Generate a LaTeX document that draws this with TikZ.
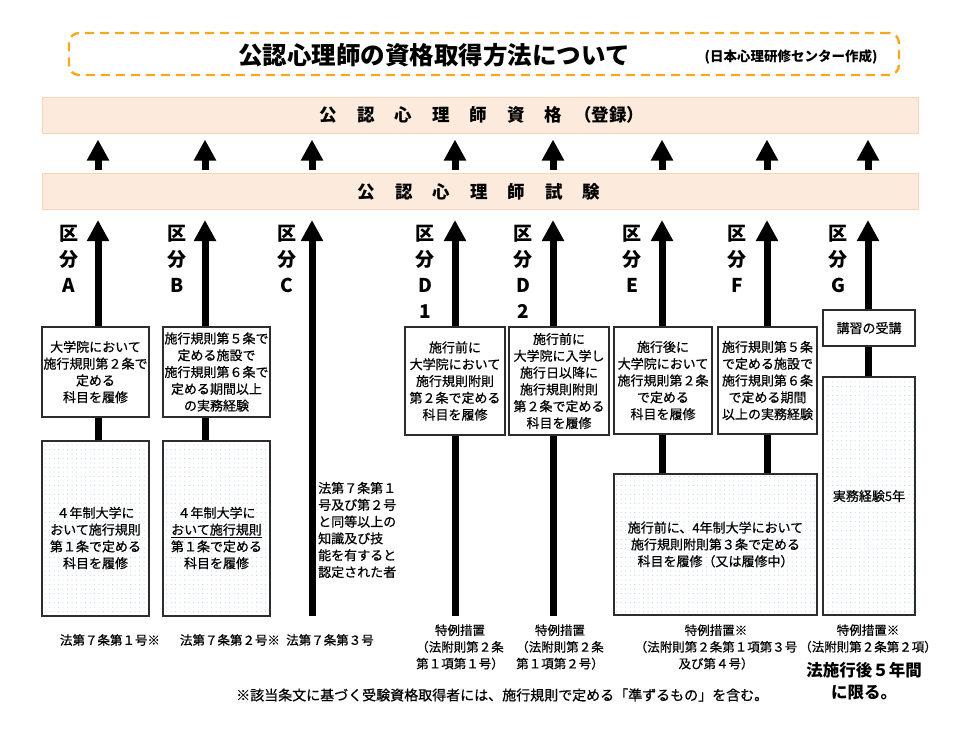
\documentclass[tikz,border=0pt]{standalone}
\usepackage{fontspec}
\setmainfont{Noto Sans CJK JP}
\newfontfamily\bodyfont{Noto Sans CJK JP}[FakeBold=0.6]
\usetikzlibrary{arrows.meta,patterns.meta}
\definecolor{hdrfill}{RGB}{252,234,220}
\definecolor{hdrline}{RGB}{250,212,185}
\definecolor{dashorange}{RGB}{247,168,30}
\definecolor{boxline}{RGB}{45,45,45}
\definecolor{dotblue}{RGB}{178,204,234}
\newcommand\hs{\hspace{20pt}}
\tikzdeclarepattern{
  name=bluedots,
  type=uncolored,
  bottom left={(-1pt,-1pt)},
  top right={(3.5pt,3.5pt)},
  tile size={(4.5pt,4.5pt)},
  code={\fill (0pt,0pt) circle (0.5pt);}
}
\begin{document}
\begin{tikzpicture}[x=1pt,y=-1pt,
  hdr/.style={draw=hdrline,fill=hdrfill,line width=1pt,minimum width=876pt,minimum height=36pt,inner sep=0pt},
  hdrtext/.style={inner sep=0pt,font=\bfseries\fontsize{17.5}{20}\selectfont},
  wbox/.style={draw=boxline,line width=1.1pt,fill=white,inner sep=0pt,align=center,font=\bodyfont\fontsize{13}{16.8}\selectfont},
  dbox/.style={draw=boxline,line width=1.1pt,preaction={fill=white},pattern={bluedots},pattern color=dotblue,inner sep=0pt,align=center,font=\bodyfont\fontsize{13}{16.8}\selectfont},
  btext/.style={inner sep=0pt,align=center,font=\bodyfont\fontsize{13}{16.8}\selectfont},
  clabel/.style={inner sep=0pt,align=center,font=\bfseries\fontsize{19}{26}\selectfont},
  note/.style={inner sep=0pt,align=center,font=\bodyfont\fontsize{12.5}{16.7}\selectfont},
  colarrow/.style={line width=7pt,-{Triangle[width=21pt,length=21pt]}},
  colline/.style={line width=7pt},
]
\useasboundingbox (0,0) rectangle (960,742);
% title
\node[draw=dashorange,line width=2.4pt,dash pattern=on 9pt off 6pt,rounded corners=10pt,minimum width=830pt,minimum height=42pt] (title) at (484,54) {};
\node[inner sep=0pt,font=\bfseries\fontsize{24.5}{28}\selectfont] (tt) at (434,55) {公認心理師の資格取得方法について};
\node[inner sep=0pt,font=\bfseries\fontsize{13.5}{15}\selectfont] (sub) at (791,57) {(日本心理研修センター作成)};
% headers
\node[hdr] (qual) at (480,115) {};
\node[hdrtext] (qualt) at (482,115) {公\hs 認\hs 心\hs 理\hs 師\hs 資\hs 格\hspace{12pt}（登録）};
\node[hdr] (exam) at (480,191.5) {};
\node[hdrtext] (examt) at (479,192) {公\hs 認\hs 心\hs 理\hs 師\hs 試\hs 験};
% column x coordinates
\coordinate (xA) at (98,0);
\coordinate (xB) at (205,0);
\coordinate (xC) at (312,0);
\coordinate (xD) at (455,0);
\coordinate (xDD) at (553,0);
\coordinate (xE) at (662,0);
\coordinate (xF) at (767,0);
\coordinate (xG) at (868,0);
% short arrows
\foreach \c in {xA,xB,xC,xD,xDD,xE,xF,xG}
  \draw[colarrow,shorten <=3pt,shorten >=6pt] (exam.north -| \c) -- (qual.south -| \c);
% column labels
\node[clabel] (lA) at (69,258.5) {区\\分\\A};
\node[clabel] (lB) at (177,258.5) {区\\分\\B};
\node[clabel] (lC) at (287,258.5) {区\\分\\C};
\node[clabel] (lD) at (425,271.5) {区\\分\\D\\1};
\node[clabel] (lDD) at (523,271.5) {区\\分\\D\\2};
\node[clabel] (lE) at (632,258.5) {区\\分\\E};
\node[clabel] (lF) at (737,258.5) {区\\分\\F};
\node[clabel] (lG) at (838,258.5) {区\\分\\G};
% upper boxes
\node[wbox,minimum width=107pt,minimum height=90pt] (A1) at (95.5,372) {大学院において\\施行規則第２条で\\定める\\科目を履修};
\node[wbox,minimum width=107pt,minimum height=90pt] (B1) at (216.5,372) {施行規則第５条で\\定める施設で\\施行規則第６条で\\定める期間以上\\の実務経験};
\node[wbox,minimum width=100pt,minimum height=108pt] (D1) at (455,381) {施行前に\\大学院において\\施行規則附則\\第２条で定める\\科目を履修};
\node[wbox,minimum width=100pt,minimum height=108pt] (D2) at (559,381) {施行前に\\大学院に入学し\\施行日以降に\\施行規則附則\\第２条で定める\\科目を履修};
\node[wbox,minimum width=98pt,minimum height=107pt] (E1) at (663,380.5) {施行後に\\大学院において\\施行規則第２条\\で定める\\科目を履修};
\node[wbox,minimum width=99pt,minimum height=107pt] (F1) at (767.5,380.5) {施行規則第５条\\で定める施設で\\施行規則第６条\\で定める期間\\以上の実務経験};
\node[wbox,minimum width=92pt,minimum height=36pt] (G1) at (869,328) {講習の受講};
% lower boxes
\node[dbox,minimum width=107pt,minimum height=175pt] (A2) at (95.5,528.5) {};
\node[btext] (A2t) at (95.5,538) {４年制大学に\\おいて施行規則\\第１条で定める\\科目を履修};
\node[dbox,minimum width=107pt,minimum height=175pt] (B2) at (216.5,528.5) {};
\node[btext] (B2t) at (216.5,538) {４年制大学に\\\underline{おいて施行規則}\\第１条で定める\\科目を履修};
\node[dbox,minimum width=203pt,minimum height=141pt] (EF) at (715.5,544.5) {施行前に、4年制大学において\\施行規則附則第３条で定める\\科目を履修（又は履修中）};
\node[dbox,minimum width=92pt,minimum height=238pt] (G2) at (869,496) {実務経験5年};
% C text
\node[btext,align=left,anchor=west] (Ct) at (318,530) {法第７条第１\\号及び第２号\\と同等以上の\\知識及び技\\能を有すると\\認定された者};
% free bottoms
\coordinate (Cbot) at (312,616);
\coordinate (Dbot) at (455,616);
\coordinate (DDbot) at (553,616);
% column connectors
\draw[colline] (A2.north -| xA) -- (A1.south -| xA);
\draw[colarrow,shorten >=10pt] (A1.north -| xA) -- (exam.south -| xA);
\draw[colline] (B2.north -| xB) -- (B1.south -| xB);
\draw[colarrow,shorten >=10pt] (B1.north -| xB) -- (exam.south -| xB);
\draw[colarrow,shorten >=10pt] (Cbot) -- (exam.south -| Cbot);
\draw[colline] (Dbot) -- (D1.south -| Dbot);
\draw[colarrow,shorten >=10pt] (D1.north -| xD) -- (exam.south -| xD);
\draw[colline] (DDbot) -- (D2.south -| DDbot);
\draw[colarrow,shorten >=10pt] (D2.north -| xDD) -- (exam.south -| xDD);
\draw[colline] (EF.north -| xE) -- (E1.south -| xE);
\draw[colarrow,shorten >=10pt] (E1.north -| xE) -- (exam.south -| xE);
\draw[colline] (EF.north -| xF) -- (F1.south -| xF);
\draw[colarrow,shorten >=10pt] (F1.north -| xF) -- (exam.south -| xF);
\draw[colline] (G2.north -| xG) -- (G1.south -| xG);
\draw[colarrow,shorten >=10pt] (G1.north -| xG) -- (exam.south -| xG);
% bottom notes
\node[note] (nA) at (110,640) {法第７条第１号※};
\node[note] (nB) at (230,640) {法第７条第２号※};
\node[note] (nC) at (330,640) {法第７条第３号};
\node[note] (nD) at (460,647) {特例措置\\（法附則第２条\\第１項第１号）};
\node[note] (nDD) at (560,647) {特例措置\\（法附則第２条\\第１項第２号）};
\node[note] (nEF) at (716,647) {特例措置※\\（法附則第２条第１項第３号\\及び第４号）};
\node[note] (nG) at (868,638.5) {特例措置※\\（法附則第２条第２項）};
\node[inner sep=0pt,align=center,font=\bfseries\fontsize{16.5}{22}\selectfont] (nG2) at (864,681) {法施行後５年間\\に限る。};
\node[inner sep=0pt,anchor=west,font=\bodyfont\fontsize{14}{16}\selectfont] (foot) at (236,695) {※該当条文に基づく受験資格取得者には、施行規則で定める「準ずるもの」を含む。};
\end{tikzpicture}
\end{document}
